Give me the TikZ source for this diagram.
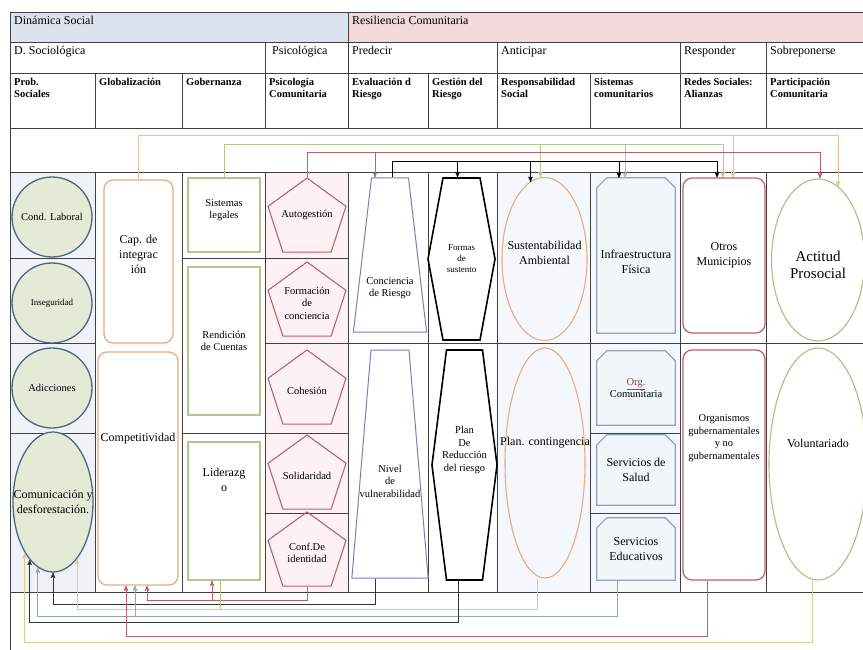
\documentclass[tikz,border=0pt]{standalone}
\usepackage{fontspec}
\setmainfont{Liberation Serif}
\usepackage{tikz}
\usetikzlibrary{shapes.geometric, shapes.symbols, arrows}
\definecolor{headblue}{HTML}{DCE3EF}
\definecolor{headpink}{HTML}{F2D9DC}
\definecolor{tintblue}{HTML}{EEF2F7}
\definecolor{tintpink}{HTML}{FCF2F3}
\definecolor{tintsky}{HTML}{F4F8FC}
\definecolor{circline}{HTML}{4F6679}
\definecolor{circfill}{HTML}{E4EAD8}
\definecolor{orng}{HTML}{E4AE80}
\definecolor{grn}{HTML}{B2C78A}
\definecolor{redp}{HTML}{C0606A}
\definecolor{trapline}{HTML}{7F7DB6}
\definecolor{blueg}{HTML}{8EA4BF}
\definecolor{snipfill}{HTML}{F1F6FB}
\definecolor{lime}{HTML}{A9C07D}
\definecolor{tanline}{HTML}{DCCB92}
\tikzset{
	>=stealth', % arrow heads of the connectors
	grid/.style={draw=black!75, line width=0.9pt}, % table rules
	head/.style={anchor=north west, inner sep=4pt, font=\fontsize{12}{13}\selectfont},
	colhead/.style={anchor=north west, inner xsep=4pt, inner ysep=5pt, align=left, font=\bfseries\fontsize{10.5}{12}\selectfont},
	txt/.style={align=center, inner sep=0pt, font=\fontsize{10.5}{12.5}\selectfont},
	tsmall/.style={font=\fontsize{9}{11}\selectfont},
	tmid/.style={font=\fontsize{12}{15}\selectfont},
	tbig/.style={font=\fontsize{15}{17}\selectfont},
	circ/.style={circle, draw=circline, fill=circfill, line width=1.3pt, minimum size=80, inner sep=0pt},
	oval/.style={ellipse, line width=1.1pt, inner sep=0pt},
	orbox/.style={rectangle, rounded corners=9pt, draw=orng, line width=1.3pt, inner sep=0pt},
	gnbox/.style={rectangle, draw=grn, line width=1.3pt, inner sep=0pt},
	pent/.style={regular polygon, regular polygon sides=5, draw=redp, line width=1.1pt, minimum size=82, inner sep=0pt},
	trap/.style={trapezium, draw=trapline, fill=white, line width=1pt},
	hexa/.style={signal, signal to=east and west, draw=black, fill=white, line width=1.6pt},
	snip/.style={rectangle, fill=snipfill, inner sep=0pt}, % frame with cut top corners drawn below
	snipline/.style={draw=blueg, line width=1.2pt},
	redbox/.style={rectangle, rounded corners=9pt, draw=redp, fill=white, line width=1.3pt, inner sep=0pt},
	conn/.style={line width=0.9pt},
}

\begin{document}
\begin{tikzpicture}[x=1pt, y=-1pt]
	\useasboundingbox[fill=white] (0,0) rectangle (863,650);
	% Backgrounds
	\fill[headblue] (10,12) rectangle (348,42);
	\fill[headpink] (348,12) rectangle (863,42);
	\fill[tintblue] (10,172) rectangle (95,592);
	\fill[tintpink] (265,172) rectangle (348,592);
	\fill[tintsky] (497,172) rectangle (680,592);
	
	% Table rules
	\foreach \y in {12,42,73,128,172,592}
		\draw[grid] (10,\y) -- (863,\y);
	\draw[grid] (10,12) -- (10,650);
	\draw[grid] (348,12) -- (348,42);
	\foreach \x in {265,348,497,680,766}
		\draw[grid] (\x,42) -- (\x,73);
	\foreach \x in {95,182,265,348,428,497,590,680,766}
		\draw[grid] (\x,73) -- (\x,128) (\x,172) -- (\x,592);
	\foreach \y in {258,433}
		\draw[grid] (10,\y) -- (95,\y) (182,\y) -- (348,\y);
	\draw[grid] (10,343) -- (95,343) (265,343) -- (863,343);
	\foreach \y in {433,513}
		\draw[grid] (590,\y) -- (680,\y);
	\draw[grid] (265,513) -- (348,513);
	
	% Headers
	\node[head] (dsoc) at (10,12) {Dinámica Social};
	\node[head] (rcom) at (348,12) {Resiliencia Comunitaria};
	\node[head] (socio) at (10,42) {D. Sociológica};
	\node[head] (psico) at (265,42) {~Psicológica};
	\node[head] (pred) at (348,42) {Predecir};
	\node[head] (antic) at (497,42) {Anticipar};
	\node[head] (resp) at (680,42) {Responder};
	\node[head] (sobre) at (766,42) {Sobreponerse};
	\foreach \x/\t [count=\i] in {10/{Prob.\\Sociales}, 95/{Globalización}, 182/{Gobernanza},
		265/{Psicología\\Comunitaria}, 348/{Evaluación d\\Riesgo}, 428/{Gestión del\\Riesgo},
		497/{Responsabilidad\\Social}, 590/{Sistemas\\comunitarios}, 680/{Redes Sociales:\\Alianzas},
		766/{Participación\\Comunitaria}}
		\node[colhead] (h\i) at (\x,73) {\t};
	
	% Define shapes
	\node[circ, label={[txt]center:Cond. Laboral}] (cl) at (52,217) {};
	\node[circ, label={[txt,tsmall]center:Inseguridad}] (ins) at (52,303) {};
	\node[circ, label={[txt]center:Adicciones}] (adi) at (52,388) {};
	\node[circ, ellipse, minimum width=80, minimum height=140, label={[txt,tmid]center:Comunicación y\\desforestación.}] (com) at (53,502) {};
	
	\node[orbox, minimum width=69, minimum height=163, label={[txt,tmid,yshift=7]center:Cap. de\\integrac\\ión}] (cap) at (138.5,261.5) {};
	\node[orbox, minimum width=80, minimum height=233, label={[txt,tmid,yshift=30]center:Competitividad}] (comp) at (138,468.5) {};
	
	\node[gnbox, minimum width=72, minimum height=74, label={[txt,yshift=5]center:Sistemas\\legales}] (sl) at (224,215) {};
	\node[gnbox, minimum width=72, minimum height=148, label={[txt]center:Rendición\\de Cuentas}] (rdc) at (224,341) {};
	\node[gnbox, minimum width=72, minimum height=138, label={[txt,tmid,yshift=31]center:Liderazg\\o}] (lid) at (224,511) {};
	
	\node[pent, label={[txt,yshift=4]center:Autogestión}] (ag) at (307,219) {};
	\node[pent, label={[txt]center:Formación\\de\\conciencia}] (fc) at (307,303) {};
	\node[pent, label={[txt]center:Cohesión}] (coh) at (307,391) {};
	\node[pent, label={[txt]center:Solidaridad}] (sol) at (307,476) {};
	\node[pent, label={[txt]center:Conf.De\\identidad}] (cdi) at (307,553) {};
	
	\node[trap, inner xsep=18.5pt, inner ysep=77pt, trapezium angle=83.3, label={[txt,yshift=-33]center:Conciencia\\de Riesgo}] (cr) at (390,255) {};
	\node[trap, inner xsep=19pt, inner ysep=114pt, trapezium angle=85.2, label={[txt,yshift=-17]center:Nivel\\de\\vulnerabilidad}] (nv) at (390,464) {};
	
	\node[hexa, inner xsep=18.5pt, inner ysep=81pt, signal pointer angle=159, label={[txt,tsmall]center:Formas\\de\\sustento}] (fs) at (461.5,259) {};
	\node[hexa, inner xsep=18pt, inner ysep=115pt, signal pointer angle=165.6, label={[txt,yshift=15]center:Plan\\De\\Reducción\\del riesgo}] (prr) at (464.5,465) {};
	
	\node[oval, draw=orng, minimum width=85, minimum height=163, label={[txt,tmid,yshift=6]center:Sustentabilidad\\Ambiental}] (sa) at (544.5,259) {};
	\node[oval, draw=orng, minimum width=80, minimum height=230, label={[txt,tmid,yshift=20]center:Plan. contingencia}] (pc) at (545,463) {};
	
	\node[snip, minimum width=78, minimum height=155, label={[txt,tmid,yshift=-6]center:Infraestructura\\Física}] (inf) at (636,255.5) {};
	\node[snip, minimum width=78, minimum height=74, label={[txt]center:\textcolor{redp!70!black}{\underline{Org.}}\\Comunitaria}] (oc) at (636,388) {};
	\node[snip, minimum width=78, minimum height=70, label={[txt,tmid]center:Servicios de\\Salud}] (ss) at (636,470) {};
	\node[snip, minimum width=78, minimum height=62, label={[txt,tmid]center:Servicios\\Educativos}] (se) at (636,549) {};
	\foreach \n in {inf,oc,ss,se}
		\draw[snipline] (\n.south west) -- ([yshift=-10]\n.north west) -- ([xshift=10]\n.north west)
			-- ([xshift=-10]\n.north east) -- ([yshift=-10]\n.north east) -- (\n.south east) -- cycle;
	
	\node[redbox, minimum width=82, minimum height=155, label={[txt,tmid]center:Otros\\Municipios}] (om) at (724,255.5) {};
	\node[redbox, minimum width=82, minimum height=230, label={[txt,yshift=27]center:Organismos\\gubernamentales\\y no\\gubernamentales}] (org) at (724,465) {};
	
	\node[oval, draw=lime, minimum width=93, minimum height=162, label={[txt,tbig,yshift=-5]center:Actitud\\Prosocial}] (ap) at (818,260) {};
	\node[oval, draw=lime, minimum width=98, minimum height=232, label={[txt,tmid,yshift=21]center:Voluntariado}] (vol) at (818,464) {};
	
	% Connector levels
	\coordinate (t1) at (0,135);
	\coordinate (t2) at (0,144);
	\coordinate (t3) at (0,152);
	\coordinate (t4) at (0,161);
	\coordinate (b0) at (0,600);
	\coordinate (b1) at (0,604);
	\coordinate (b2) at (0,609);
	\coordinate (b3) at (0,616);
	\coordinate (b4) at (0,622);
	\coordinate (b5) at (0,636);
	\coordinate (b6) at (0,642);
	
	% Upper connectors
	\draw[conn, orng!80, ->] (cap.north) |- ([xshift=20]ap.north |- t1) -- ([xshift=20,yshift=-8]ap.north);
	\draw[conn, orng!80, ->] ([xshift=9]om.north |- t1) -- ([xshift=9]om.north);
	\draw[conn, grn, ->] (sl.north) |- ([xshift=-1]om.north |- t2) -- ([xshift=-1]om.north);
	\draw[conn, grn, ->] ([xshift=-4]sa.north |- t2) -- ([xshift=-4]sa.north);
	\draw[conn, grn, ->] ([xshift=-11]inf.north |- t2) -- ([xshift=-11]inf.north);
	\draw[conn, redp, ->] (ag.north) |- ([xshift=2]ap.north |- t3) -- ([xshift=2]ap.north);
	\draw[conn, redp, ->] ([xshift=-15]cr.north |- t3) -- ([xshift=-15]cr.north);
	\draw[conn, black, ->] ([xshift=2]cr.north) |- ([xshift=-7]om.north |- t4) -- ([xshift=-7]om.north);
	\draw[conn, black, ->] ([xshift=-4]fs.north |- t4) -- ([xshift=-4]fs.north);
	\draw[conn, black, ->] ([xshift=-14]sa.north |- t4) -- ([xshift=-14,yshift=-5]sa.north);
	\draw[conn, black, ->] ([xshift=-17]inf.north |- t4) -- ([xshift=-17]inf.north);
	
	% Lower connectors
	\draw[conn, redp, ->] (cdi.south) |- ([xshift=9]comp.south |- b0) -- ([xshift=9]comp.south);
	\draw[conn, redp, ->] ([xshift=-12]lid.south |- b0) -- ([xshift=-12]lid.south);
	\draw[conn, black!80, ->] ([xshift=-15]nv.south) |- (com.south |- b1) -- (com.south);
	\draw[conn, tanline, ->] ([xshift=-8]pc.south) |- (com.-67 |- b2) -- (com.-67);
	\draw[conn, grn] ([xshift=-4]lid.south) -- ([xshift=-4]lid.south |- b2);
	\draw[conn, blueg, ->] ([xshift=-19]se.south) |- (com.-103 |- b3) -- (com.-103);
	\draw[conn, blueg, ->] ([xshift=-3]comp.south |- b3) -- ([xshift=-3]comp.south);
	\draw[conn, black!80, ->] ([xshift=-6.5]prr.south) |- (com.-112 |- b4) -- (com.-112);
	\draw[conn, redp, ->] ([xshift=-17]org.south) |- ([xshift=-12]comp.south |- b5) -- ([xshift=-12]comp.south);
	\draw[conn, tanline, ->] ([xshift=-6]vol.south) |- (com.-119 |- b6) -- (com.-119);
\end{tikzpicture}
\end{document}
